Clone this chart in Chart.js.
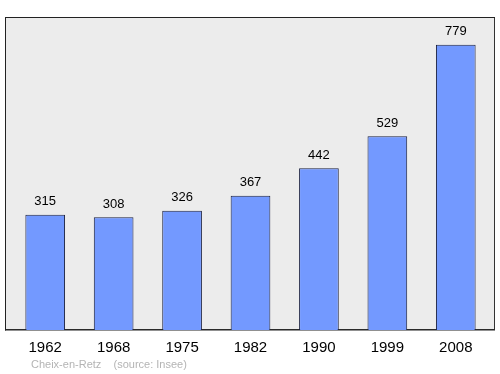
<!DOCTYPE html>
<html>
<head>
<meta charset="utf-8">
<script src="https://cdn.jsdelivr.net/npm/chart.js@4/dist/chart.umd.min.js"></script>
<style>
  body { margin: 0; background: #fff; }
  #wrap { width: 500px; height: 374px; position: relative; }
</style>
</head>
<body>
<div id="wrap"><canvas id="myChart" width="500" height="374"></canvas></div>
<script>
// data
const years = ["1962", "1968", "1975", "1982", "1990", "1999", "2008"];
const population = [315, 308, 326, 367, 442, 529, 779];
const sourceText = "Cheix-en-Retz    (source: Insee)";

// frame behind the bars
const framePlugin = {
  id: "frame",
  beforeDraw(chart) {
    const c = chart.ctx;
    c.save();
    c.fillStyle = "#ececec";
    c.fillRect(5, 17, 490, 313);
    c.strokeStyle = "#333";
    c.lineWidth = 1;
    c.strokeRect(5.5, 17.5, 489, 312);
    c.strokeStyle = "#222";
    c.beginPath();
    c.moveTo(5.5, 330.5); c.lineTo(5.5, 17.5); c.lineTo(495, 17.5);
    c.moveTo(5, 330); c.lineTo(495, 330);
    c.stroke();
    c.restore();
  },
  afterDatasetsDraw(chart) {
    const c = chart.ctx;
    const meta = chart.getDatasetMeta(0);
    c.save();
    c.fillStyle = "#000";
    c.font = "13px 'Liberation Sans', Arial, sans-serif";
    c.textAlign = "center";
    c.textBaseline = "middle";
    meta.data.forEach((bar, i) => {
      c.fillText(String(population[i]), bar.x, bar.y - 13);
    });
    c.fillStyle = "#b4b4b4";
    c.font = "11px 'Liberation Sans', Arial, sans-serif";
    c.textAlign = "left";
    c.fillText(sourceText, 31, 365);
    c.restore();
  }
};

const ctx = document.getElementById("myChart");
const chart = new Chart(ctx, {
  type: "bar",
  data: {
    labels: years,
    datasets: [
      {
        data: population,
        backgroundColor: "#7399ff",
        borderColor: "#1a2040",
        borderWidth: 1,
        barPercentage: 0.58,
        categoryPercentage: 1,
      },
    ],
  },
  options: {
    responsive: false,
    animation: false,
    layout: { padding: { left: 11, right: 10, top: 17, bottom: 16 } },
    scales: {
      x: {
        grid: { display: false },
        border: { display: false },
        ticks: {
          color: "#000",
          padding: 1,
          font: { size: 15, family: "'Liberation Sans', Arial, sans-serif" },
        },
      },
      y: {
        display: false,
        min: 0,
        max: 855,
      },
    },
    plugins: {
      legend: { display: false },
      tooltip: { enabled: false },
    },
  },
  plugins: [framePlugin],
});
</script>
</body>
</html>
